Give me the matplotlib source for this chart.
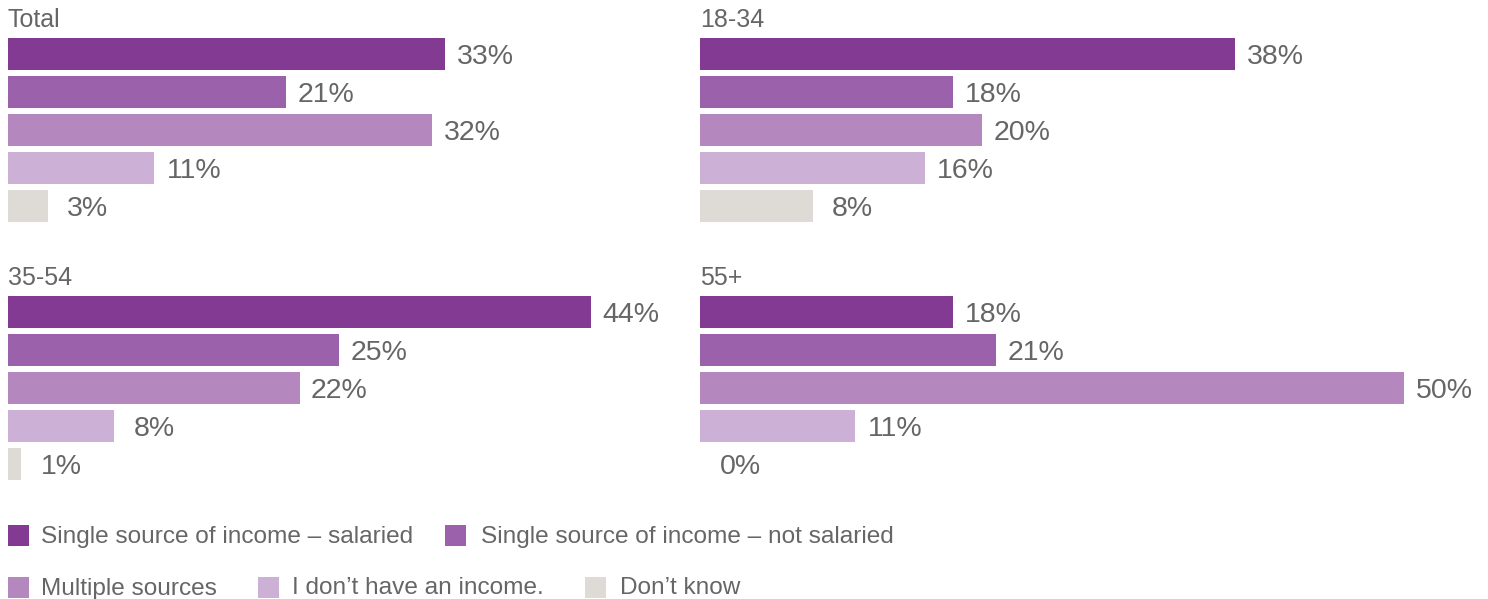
import matplotlib
matplotlib.use("Agg")
import matplotlib.pyplot as plt
from matplotlib.patches import Rectangle

plt.rcParams['font.family'] = ['Liberation Sans', 'DejaVu Sans']

categories = ["Single source of income \u2013 salaried",
              "Single source of income \u2013 not salaried",
              "Multiple sources",
              "I don\u2019t have an income.",
              "Don\u2019t know"]
colors = ["#833A92", "#9B62AB", "#B587BF", "#CDB0D6", "#DEDAD5"]

panels = ["Total", "18-34", "35-54", "55+"]
total = [33, 21, 32, 11, 3]
age_18_34 = [38, 18, 20, 16, 8]
age_35_54 = [44, 25, 22, 8, 1]
age_55p = [18, 21, 50, 11, 0]
values = [total, age_18_34, age_35_54, age_55p]

W, H = 1488, 599
fig = plt.figure(figsize=(W / 100, H / 100), dpi=100)
TXT = "#666666"

def fx(px):
    return px / W

def fy(py):
    return 1 - py / H

# (left px, px-per-percent, top of first bar px)
layout = [(8, 13.25, 38), (700, 14.08, 38), (8, 13.25, 296), (700, 14.08, 296)]
pitch = 38
bar_h = 32

for (left, scale, top), title, vals in zip(layout, panels, values):
    ax_top = top + bar_h / 2 - pitch / 2
    ax_bot = ax_top + pitch * 5
    width_px = 50 * scale
    ax = fig.add_axes([fx(left), fy(ax_bot), fx(width_px), (ax_bot - ax_top) / H])
    ax.set_xlim(0, 50)
    ax.set_ylim(4.5, -0.5)
    ax.axis('off')
    ys = list(range(len(vals)))
    ax.barh(ys, vals, height=bar_h / pitch, color=colors, linewidth=0)
    for y, v in zip(ys, vals):
        ax.annotate(f"{v}%", xy=(v, y), xytext=(40 * 0.72, -2.2), textcoords='offset points',
                    ha='center', va='center', fontsize=20.5, color=TXT)
    fig.text(fx(left), fy(top - 18), title, ha='left', va='center', fontsize=18, color=TXT)

# Legend: (square x, text x, center y, item index)
legend_items = [
    (8, 41, 535, 0), (445, 481, 535, 1),
    (8, 41, 587, 2), (258, 292, 587, 3), (585, 620, 587, 4),
]
sq = 21
for x, tx, yc, i in legend_items:
    fig.add_artist(Rectangle((fx(x), fy(yc + sq / 2)), fx(sq), sq / H,
                             transform=fig.transFigure, color=colors[i], linewidth=0))
    fig.text(fx(tx), fy(yc + 1.5), categories[i], ha='left', va='center', fontsize=17.6, color=TXT)

fig.savefig("out.png", dpi=100)
